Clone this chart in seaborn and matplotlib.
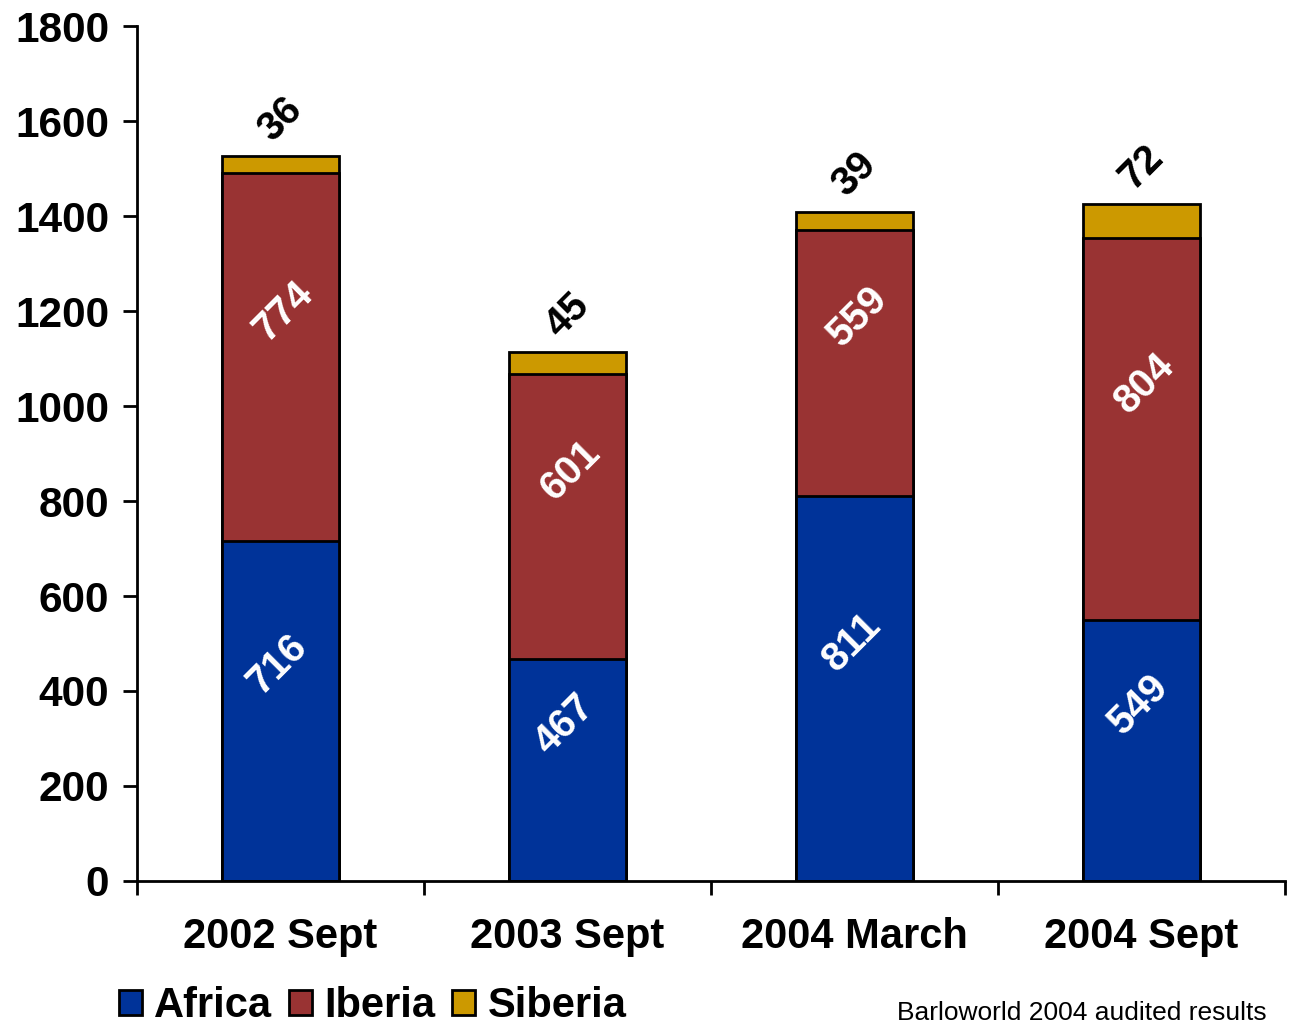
import pandas as pd
import seaborn as sns
import matplotlib.pyplot as plt
from matplotlib.patches import Patch

periods = ['2002 Sept', '2003 Sept', '2004 March', '2004 Sept']
africa = [716, 467, 811, 549]
iberia = [774, 601, 559, 804]
siberia = [36, 45, 39, 72]

colors = {'Africa': '#003399', 'Iberia': '#993333', 'Siberia': '#CC9900'}

df = pd.DataFrame({'period': periods, 'Africa': africa, 'Iberia': iberia, 'Siberia': siberia})
df['lvl2'] = df['Africa'] + df['Iberia']
df['total'] = df['lvl2'] + df['Siberia']

sns.set_style('white')
plt.rcParams['font.family'] = ['Liberation Sans', 'DejaVu Sans']
plt.rcParams['font.weight'] = 'bold'
plt.rcParams['text.color'] = 'black'
plt.rcParams['xtick.color'] = 'black'
plt.rcParams['ytick.color'] = 'black'

fig = plt.figure(figsize=(12.92, 10.25), dpi=100)
ax = fig.add_axes([0.106, 0.1405, 0.8886, 0.8341])

# stacked bars drawn as overlapping cumulative totals
bar_kws = dict(width=0.41, edgecolor='black', linewidth=2, saturation=1)
sns.barplot(data=df, x='period', y='total', color=colors['Siberia'], ax=ax, **bar_kws)
sns.barplot(data=df, x='period', y='lvl2', color=colors['Iberia'], ax=ax, **bar_kws)
sns.barplot(data=df, x='period', y='Africa', color=colors['Africa'], ax=ax, **bar_kws)

# value labels
lab_kws = dict(rotation=45, ha='center', va='center', fontsize=29, fontweight='bold')
for i, row in df.iterrows():
    ax.text(i - 0.01, row['Africa'] / 2 + 97, str(row['Africa']), color='white', **lab_kws)
    ax.text(i + 0.01, row['Africa'] + row['Iberia'] / 2 + 97, str(row['Iberia']),
            color='white', **lab_kws)
    ax.text(i, row['total'] + 78, str(row['Siberia']), color='black', **lab_kws)

ax.set_ylim(0, 1800)
ax.set_xlim(-0.5, 3.5)
ax.set_yticks(range(0, 1801, 200))
ax.set_xlabel('')
ax.set_ylabel('')
ax.set_xticks([-0.5, 0.5, 1.5, 2.5, 3.5])
ax.set_xticklabels([])
ax.set_xticks(range(4), minor=True)
ax.set_xticklabels(periods, minor=True)
ax.tick_params(axis='x', which='minor', length=0, pad=26, labelsize=30)
ax.tick_params(axis='x', which='major', direction='out', length=10, width=2, bottom=True)
ax.tick_params(axis='y', direction='out', length=10, width=2, left=True, labelsize=30.5, pad=10)
for lab in ax.get_xticklabels(minor=True) + ax.get_yticklabels():
    lab.set_fontweight('bold')

sns.despine(ax=ax)
for side in ['left', 'bottom']:
    ax.spines[side].set_linewidth(2)
    ax.spines[side].set_color('black')

handles = [Patch(facecolor=colors[k], edgecolor='black', linewidth=2, label=k)
           for k in ['Africa', 'Iberia', 'Siberia']]
fig.legend(handles=handles, loc='lower left', bbox_to_anchor=(0.063, -0.038), ncol=3,
           frameon=False, prop={'size': 30, 'weight': 'bold'},
           handlelength=0.55, handleheight=0.55, handletextpad=0.3, columnspacing=0.4,
           borderaxespad=0.5)

fig.text(0.694, 0.0, 'Barloworld 2004 audited results', fontsize=19,
         fontweight='normal', ha='left', va='bottom')

fig.savefig('out.png', dpi=100)
